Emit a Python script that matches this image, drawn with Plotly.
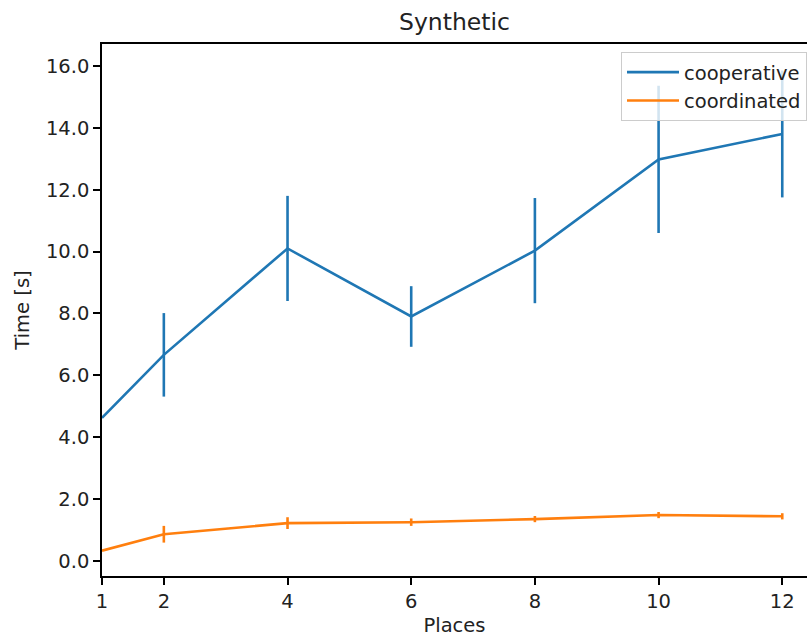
import plotly.graph_objects as go

places = [1, 2, 4, 6, 8, 10, 12]
coop_mean = [4.62, 6.66, 10.1, 7.9, 10.03, 12.98, 13.8]
coop_err = [0.0, 1.35, 1.7, 0.98, 1.7, 2.38, 2.05]
coord_mean = [0.33, 0.86, 1.22, 1.25, 1.35, 1.48, 1.44]
coord_err = [0.0, 0.27, 0.19, 0.12, 0.1, 0.1, 0.1]
xticks = [1, 2, 4, 6, 8, 10, 12]

blue = "#1f77b4"
orange = "#ff7f0e"

fig = go.Figure()
fig.add_trace(go.Scatter(
    x=places, y=coop_mean, name="cooperative", mode="lines",
    line=dict(color=blue, width=2.6),
    error_y=dict(type="data", array=coop_err, visible=True, width=0,
                 thickness=2.6, color=blue),
))
fig.add_trace(go.Scatter(
    x=places, y=coord_mean, name="coordinated", mode="lines",
    line=dict(color=orange, width=2.6),
    error_y=dict(type="data", array=coord_err, visible=True, width=0,
                 thickness=2.6, color=orange),
))

fs = 19.5
font = dict(family="DejaVu Sans", size=fs, color="#222")
fig.update_layout(
    width=807, height=637,
    margin=dict(l=102, r=0, t=44, b=61),
    paper_bgcolor="white", plot_bgcolor="white",
    font=font,
    title=dict(text="Synthetic", x=0.5, xref="paper", xanchor="center",
               y=1 - 22/637, yanchor="middle",
               font=dict(family="DejaVu Sans", size=23.5, color="#222")),
    legend=dict(x=1, y=0.985, xanchor="right", yanchor="top",
                bgcolor="rgba(255,255,255,0.8)", bordercolor="#cccccc",
                borderwidth=1, font=dict(family="DejaVu Sans", size=fs),
                tracegroupgap=0, itemwidth=52),
    showlegend=True,
)
fig.update_xaxes(
    range=[1, 12.4], tickvals=xticks, ticktext=[str(v) for v in xticks],
    showgrid=False, zeroline=False, showline=True, linecolor="black",
    linewidth=1.5, mirror=True, ticks="outside", ticklen=7, tickwidth=1.5,
    tickcolor="black", tickfont=dict(size=fs),
    title=dict(text="Places", standoff=8, font=dict(size=fs)),
)
fig.update_yaxes(
    range=[-0.49, 16.71], tickvals=[0, 2, 4, 6, 8, 10, 12, 14, 16],
    tickformat=".1f",
    showgrid=False, zeroline=False, showline=True, linecolor="black",
    linewidth=1.5, mirror=False, ticks="outside", ticklen=7, tickwidth=1.5,
    tickcolor="black", tickfont=dict(size=fs),
    title=dict(text="Time [s]", standoff=11, font=dict(size=fs)),
)

fig.write_html("out.html")
